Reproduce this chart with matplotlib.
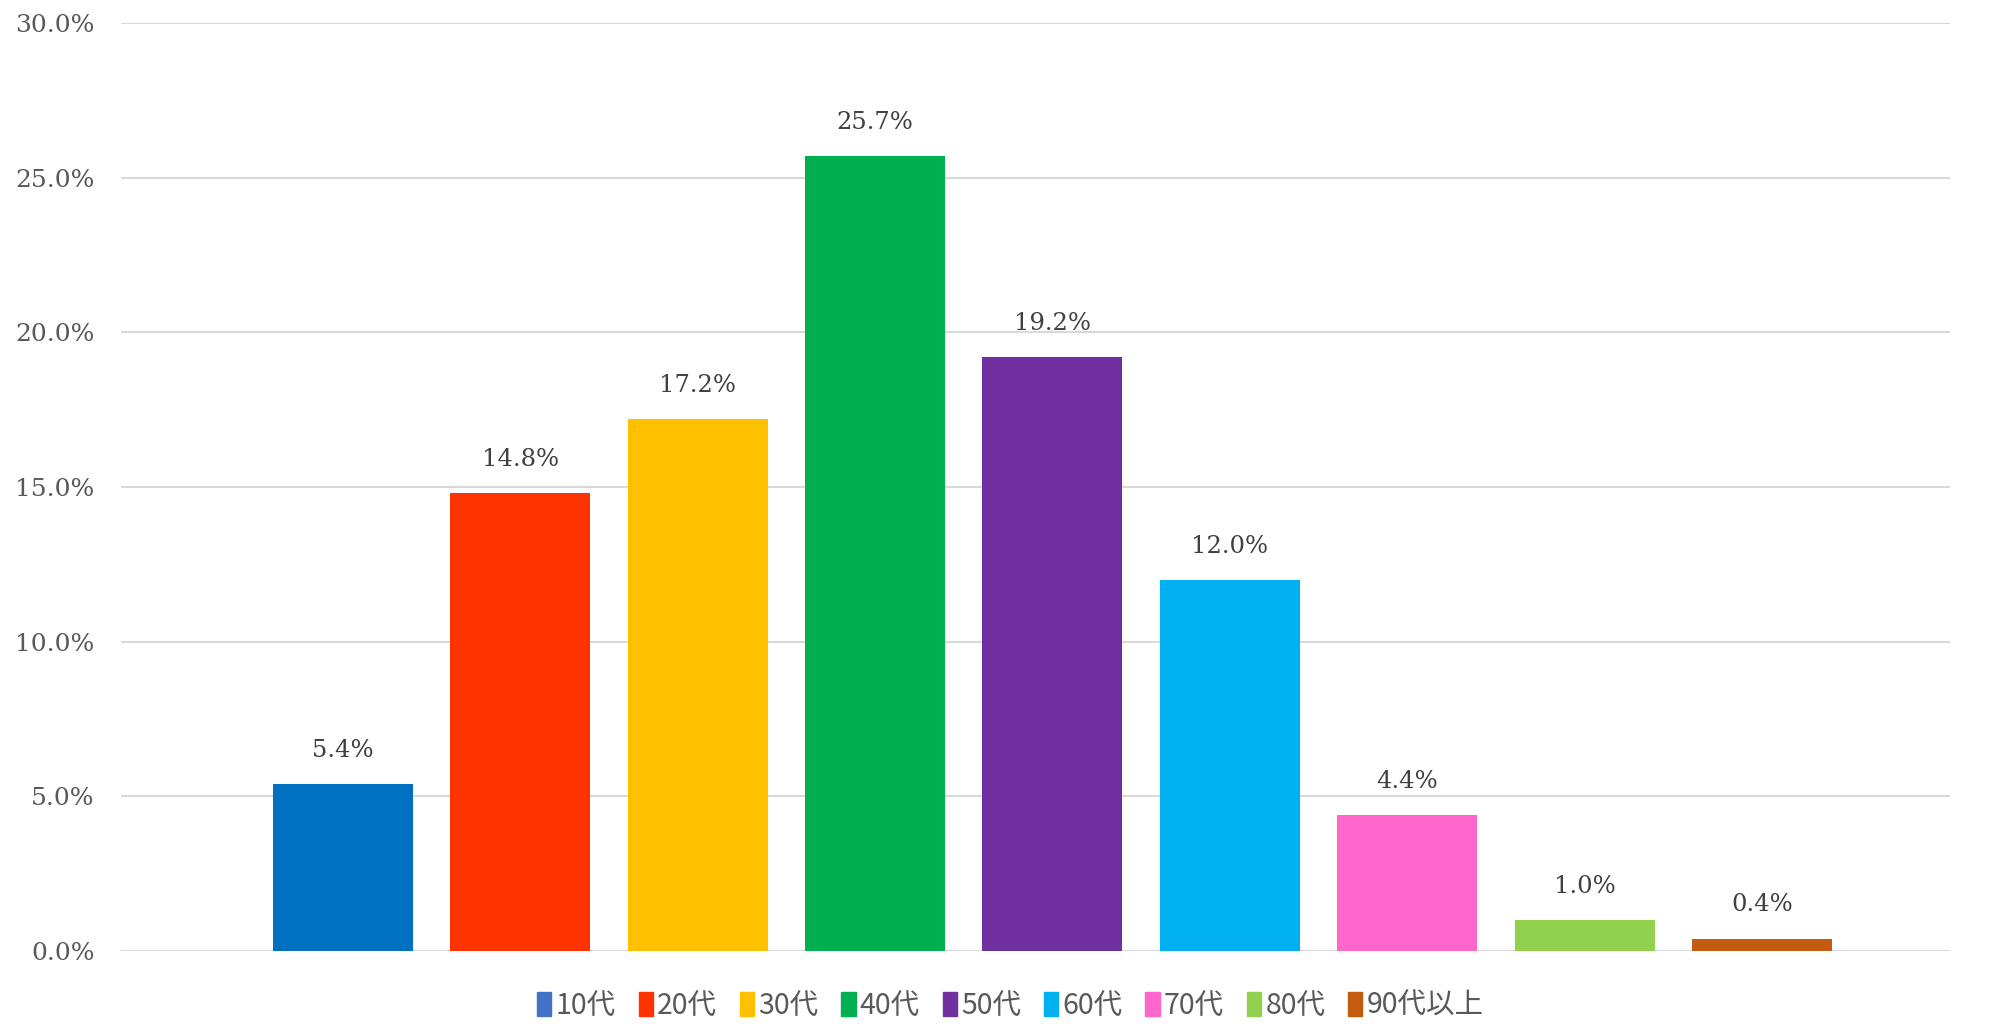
import matplotlib
matplotlib.use('Agg')
from matplotlib import pyplot as plt
from matplotlib.patches import Patch
import numpy as np

plt.rcParams['font.family'] = ['Noto Sans CJK JP', 'DejaVu Sans']

# age groups and share of respondents
ages = ['10代', '20代', '30代', '40代', '50代', '60代', '70代', '80代', '90代以上']
shares = [5.4, 14.8, 17.2, 25.7, 19.2, 12.0, 4.4, 1.0, 0.4]

bar_colors = ['#0070C0', '#FF3300', '#FFC000', '#00B050', '#7030A0',
              '#00B0F0', '#FF66CC', '#92D050', '#C55A11']
# legend swatch for the first group uses the series colour, not the point colour
legend_colors = ['#4472C4'] + bar_colors[1:]

txt = '#595959'
serif = ['DejaVu Serif']

fig = plt.figure(figsize=(19.93, 10.24), dpi=100)
ax = fig.add_axes([0.0607, 0.0713, 0.9178, 0.9062])

x = np.arange(len(ages))
bars = ax.bar(x, shares, width=0.79, color=bar_colors, zorder=3)

for b, v in zip(bars, shares):
    ax.annotate('%.1f%%' % v, (b.get_x() + b.get_width() / 2, v),
                xytext=(0, 16), textcoords='offset points',
                ha='center', va='bottom', fontsize=17.5, color='#404040',
                family=serif, fontweight='light')

ax.set_xlim(-1.25, 9.06)
ax.set_ylim(0, 30)
ax.set_yticks(np.arange(0, 31, 5))
ax.set_yticklabels(['%.1f%%' % t for t in np.arange(0, 31, 5)],
                   family=serif, fontsize=18, color=txt)
ax.set_xticks([])
ax.tick_params(axis='y', length=0, pad=19)
ax.yaxis.grid(True, color='#D9D9D9', linewidth=1.5, zorder=0)
for s in ax.spines.values():
    s.set_visible(False)

handles = [Patch(color=c) for c in legend_colors]
fig.legend(handles, ages, loc='center', bbox_to_anchor=(0.507, 0.018),
           ncol=len(ages), frameon=False, fontsize=20.5,
           handlelength=0.5, handleheight=0.9, handletextpad=0.15,
           columnspacing=0.8, labelcolor=txt)

plt.savefig('out.png', dpi=100)
